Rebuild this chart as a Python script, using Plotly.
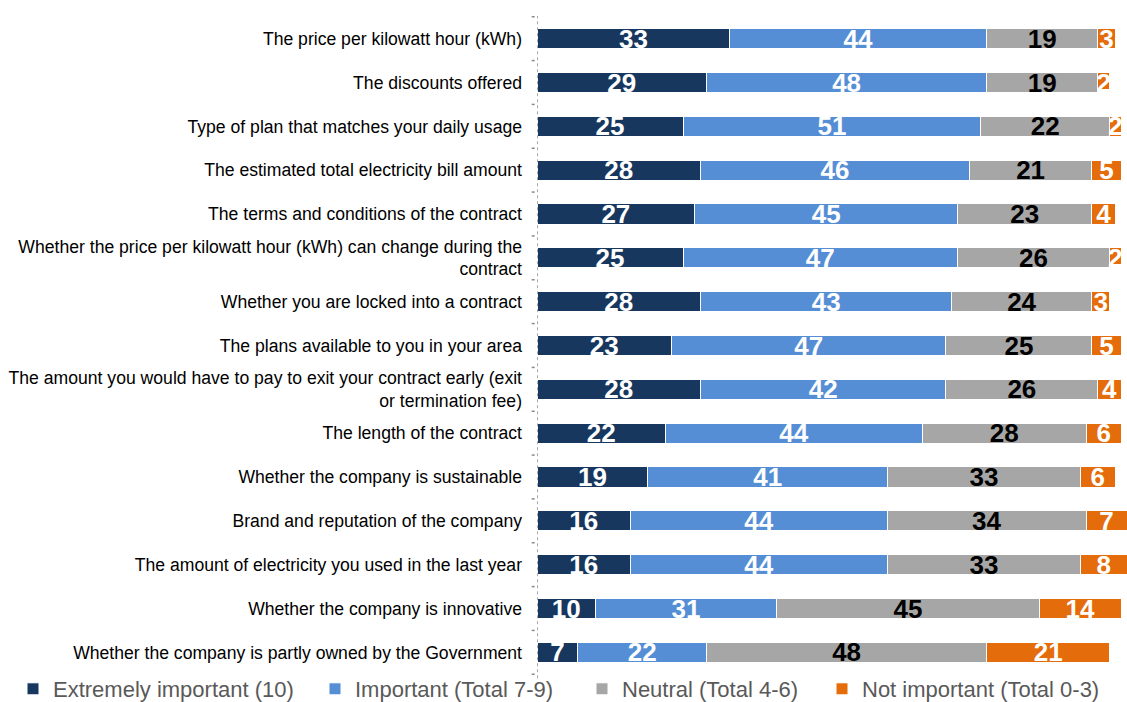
import plotly.graph_objects as go

# Survey factors (top to bottom as displayed)
factors = [
    "The price per kilowatt hour (kWh)",
    "The discounts offered",
    "Type of plan that matches your daily usage",
    "The estimated total electricity bill amount",
    "The terms and conditions of the contract",
    "Whether the price per kilowatt hour (kWh) can change during the<br>contract",
    "Whether you are locked into a contract",
    "The plans available to you in your area",
    "The amount you would have to pay to exit your contract early (exit<br>or termination fee)",
    "The length of the contract",
    "Whether the company is sustainable",
    "Brand and reputation of the company",
    "The amount of electricity you used in the last year",
    "Whether the company is innovative",
    "Whether the company is partly owned by the Government",
]

extremely_important = [33, 29, 25, 28, 27, 25, 28, 23, 28, 22, 19, 16, 16, 10, 7]
important = [44, 48, 51, 46, 45, 47, 43, 47, 42, 44, 41, 44, 44, 31, 22]
neutral = [19, 19, 22, 21, 23, 26, 24, 25, 26, 28, 33, 34, 33, 45, 48]
not_important = [3, 2, 2, 5, 4, 2, 3, 5, 4, 6, 6, 7, 8, 14, 21]

series_names = [
    "Extremely important (10)",
    "Important (Total 7-9)",
    "Neutral (Total 4-6)",
    "Not important (Total 0-3)",
]
series_values = [extremely_important, important, neutral, not_important]
series_colors = ["#17375E", "#558ED5", "#A6A6A6", "#E46C0A"]
label_colors = ["white", "white", "black", "white"]

# left edge (container px) of each legend entry along the bottom row
legend_left_px = [13, 315, 582, 822]

FONT = "Arial, Liberation Sans, sans-serif"
W, H = 1127, 702

fig = go.Figure()
legend_layout = {}
for k, (name, vals, color, txtcolor) in enumerate(
        zip(series_names, series_values, series_colors, label_colors)):
    lg = "legend" if k == 0 else f"legend{k + 1}"
    fig.add_trace(go.Bar(
        y=factors,
        x=vals,
        name=name,
        legend=lg,
        showlegend=True,
        orientation="h",
        marker=dict(color=color, line=dict(color="white", width=1)),
        text=[str(v) for v in vals],
        textposition="inside",
        insidetextanchor="middle",
        textangle=0,
        constraintext="none",
        cliponaxis=False,
        textfont=dict(family=FONT, size=26, color=txtcolor, weight="bold"),
    ))
    legend_layout[lg] = dict(
        orientation="h",
        xref="container", yref="container",
        x=legend_left_px[k] / W, y=13 / H,
        xanchor="left", yanchor="middle",
        font=dict(family=FONT, size=22, color="#595959"),
        bgcolor="rgba(0,0,0,0)",
        borderwidth=0,
    )

# dotted category axis line and boundary tick dots
n = len(factors)
shapes = [dict(type="line", xref="x", yref="paper", x0=0, x1=0, y0=-0.005, y1=1.0,
               line=dict(color="#8C8C8C", width=1.5, dash="dot"), layer="above")]
for i in range(n + 1):
    shapes.append(dict(type="line", xref="paper", yref="y",
                       x0=-0.009, x1=0, y0=i - 0.5, y1=i - 0.5,
                       line=dict(color="#8C8C8C", width=1.5, dash="dot")))

fig.update_layout(
    width=W, height=H,
    margin=dict(l=537, r=0, t=16, b=27, autoexpand=False),
    showlegend=True,
    barmode="stack",
    bargap=0.54,
    plot_bgcolor="white",
    paper_bgcolor="white",
    font=dict(family=FONT, color="black"),
    uniformtext=dict(mode=False),
    shapes=shapes,
    xaxis=dict(range=[0, 101], visible=False, fixedrange=True),
    yaxis=dict(
        autorange="reversed",
        showline=False,
        showgrid=False,
        ticks="",
        ticklabelstandoff=14,
        tickfont=dict(family=FONT, size=17.6, color="#000000"),
    ),
    **legend_layout,
)

fig.write_html("out.html")
